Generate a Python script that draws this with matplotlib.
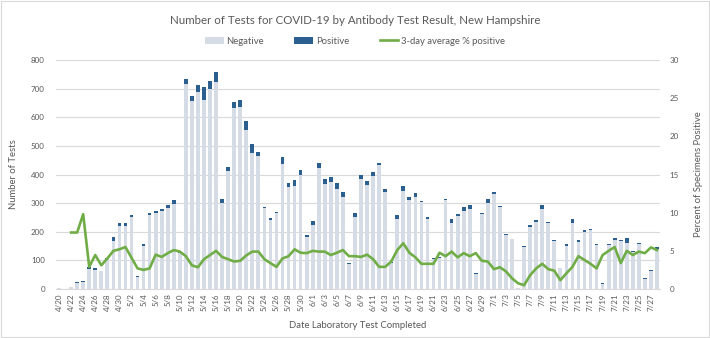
import matplotlib
matplotlib.use("Agg")
import matplotlib.pyplot as plt
import numpy as np
import datetime as dt

plt.rcParams['font.family'] = ['Lato', 'DejaVu Sans']

start = dt.date(2020, 4, 20)
dates = [start + dt.timedelta(days=k) for k in range(100)]
labels = [f"{d.month}/{d.day}" for d in dates]

total = [3, 0, 7, 24, 29, 76, 73, 64, 108, 183,
         230, 230, 259, 45, 157, 265, 272, 279, 293, 311,
         130, 732, 673, 712, 704, 726, 758, 314, 427, 654,
         662, 586, 505, 480, 287, 248, 269, 460, 372, 380,
         415, 188, 237, 441, 384, 392, 369, 340, 90, 265,
         398, 378, 407, 439, 350, 94, 258, 361, 320, 334,
         307, 252, 109, 113, 313, 243, 263, 285, 292, 55,
         266, 313, 340, 290, 191, 175, 3, 150, 223, 241,
         293, 233, 171, 74, 157, 243, 171, 205, 208, 157,
         20, 156, 179, 171, 177, 133, 159, 37, 66, 145]
positive = [0, 0, 1, 2, 3, 5, 5, 2, 4, 15,
            10, 10, 6, 2, 6, 6, 8, 8, 10, 15,
            5, 17, 17, 23, 42, 29, 35, 12, 14, 23,
            26, 31, 29, 17, 4, 7, 5, 24, 15, 20,
            17, 5, 15, 19, 17, 17, 21, 17, 2, 14,
            15, 13, 13, 7, 12, 3, 14, 17, 10, 12,
            4, 9, 3, 3, 3, 12, 9, 12, 12, 2,
            3, 12, 8, 3, 3, 0, 0, 2, 6, 6,
            13, 3, 3, 2, 7, 12, 8, 7, 3, 3,
            2, 3, 8, 3, 15, 3, 3, 3, 3, 5]
pct3 = [np.nan, np.nan, 7.4, 7.4, 9.8, 2.9, 4.45, 3.1, 4.0, 5.0,
        5.2, 5.5, 4.1, 2.7, 2.5, 2.7, 4.5, 4.2, 4.7, 5.1,
        4.9, 4.3, 3.1, 2.85, 3.9, 4.45, 5.0, 4.2, 3.9, 3.6,
        3.7, 4.4, 4.9, 4.9, 3.9, 3.4, 2.9, 4.0, 4.3, 5.2,
        4.75, 4.7, 5.0, 4.9, 4.9, 4.45, 4.75, 5.1, 4.3, 4.3,
        4.2, 4.5, 3.9, 2.9, 2.9, 3.6, 5.1, 6.0, 4.75, 4.15,
        3.3, 3.3, 3.3, 4.75, 4.3, 4.9, 4.15, 4.7, 4.3, 4.7,
        3.7, 3.6, 2.6, 2.85, 2.3, 1.4, 0.75, 0.5, 1.8, 2.7,
        3.3, 2.6, 2.4, 1.15, 2.05, 2.9, 4.3, 3.8, 3.3, 2.7,
        4.45, 5.0, 5.5, 3.4, 5.0, 4.45, 4.9, 4.7, 5.45, 5.1]

negative = [t - p for t, p in zip(total, positive)]

NEG_C = '#D6DCE5'
POS_C = '#2A5F8F'
LINE_C = '#70AD47'
TXT_C = '#595959'
GRID_C = '#D9D9D9'

fig = plt.figure(figsize=(7.1, 3.38), dpi=100)
ax = fig.add_axes([56/710, 1-289/338, 604/710, 229/338])
x = np.arange(len(labels))
ax.bar(x, negative, width=0.62, color=NEG_C, label='Negative', zorder=2)
ax.bar(x, positive, width=0.62, bottom=negative, color=POS_C, label='Positive', zorder=2)
ax.set_xlim(-0.5, len(labels) - 0.5)
ax.set_ylim(0, 800)
ax.set_yticks(range(0, 801, 100))
ax.yaxis.grid(True, color=GRID_C, linewidth=0.8, zorder=0)
ax.set_axisbelow(True)
for s in ['top', 'right', 'left']:
    ax.spines[s].set_visible(False)
ax.spines['bottom'].set_color(GRID_C)
ax.set_xticks(x[::2])
ax.set_xticklabels(labels[::2], rotation=90, fontsize=5.8, color=TXT_C)
ax.tick_params(axis='x', length=0, pad=3)
ax.tick_params(axis='y', length=0, labelsize=5.8, labelcolor=TXT_C, pad=8)
ax.set_ylabel('Number of Tests', fontsize=6.8, color=TXT_C, labelpad=9)
ax.set_xlabel('Date Laboratory Test Completed', fontsize=6.8, color=TXT_C, labelpad=7)

ax2 = ax.twinx()
ax2.plot(x, pct3, color=LINE_C, linewidth=1.9, label='3-day average % positive', zorder=3)
ax2.set_ylim(0, 30)
ax2.set_yticks(range(0, 31, 5))
for s in ['top', 'right', 'left', 'bottom']:
    ax2.spines[s].set_visible(False)
ax2.tick_params(axis='y', length=0, labelsize=5.8, labelcolor=TXT_C, pad=7)
ax2.set_ylabel('Percent of Specimens Positive', fontsize=6.8, color=TXT_C, labelpad=11)

fig.text(0.5, 1-21/338, 'Number of Tests for COVID-19 by Antibody Test Result, New Hampshire',
         ha='center', va='center', fontsize=8.3, color=TXT_C)

h1, l1 = ax.get_legend_handles_labels()
h2, l2 = ax2.get_legend_handles_labels()
fig.legend(h1 + h2, l1 + l2, loc='center', bbox_to_anchor=(0.5, 1-41/338), ncol=3,
           frameon=False, fontsize=6.8, labelcolor=TXT_C, handlelength=2.0, handleheight=0.7,
           columnspacing=3.2, handletextpad=0.3)

fig.patches.append(plt.Rectangle((0.001, 0.002), 0.997, 0.995, transform=fig.transFigure,
                                 fill=False, edgecolor='#D9D9D9', linewidth=0.8))
fig.savefig('out.png', dpi=100, facecolor='white')
